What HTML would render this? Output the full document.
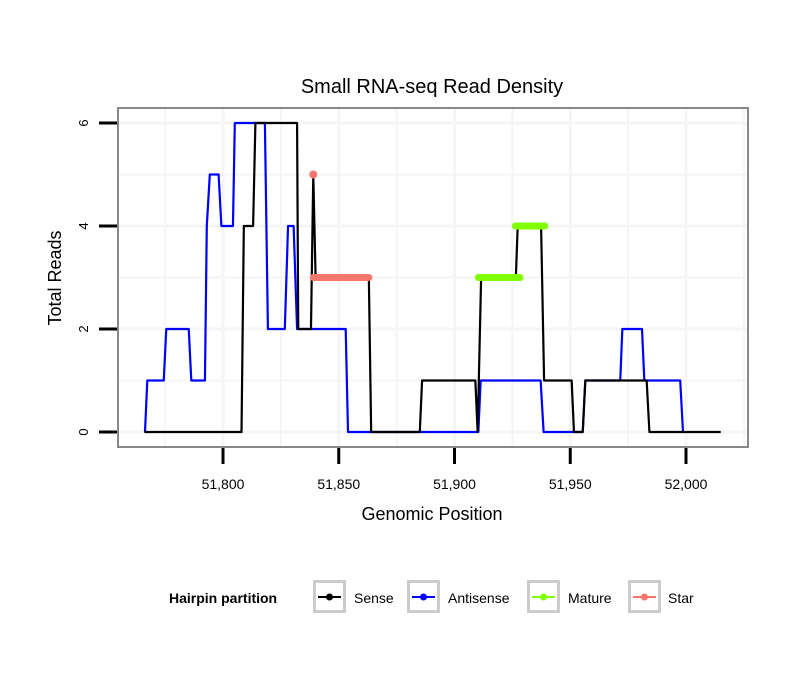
<!DOCTYPE html>
<html><head><meta charset="utf-8"><style>
body{margin:0;background:#fff;}
svg{display:block;font-family:"Liberation Sans",Arial,sans-serif;}
</style></head><body>
<svg id="chart" width="810" height="690">
<rect width="810" height="690" fill="#fff"/>
<text x="432" y="93" text-anchor="middle" font-size="20">Small RNA-seq Read Density</text>
<g id="grid"></g>
<g id="series"></g>
<rect x="118" y="108" width="630" height="339" fill="none" stroke="#888" stroke-width="2"/>
<g id="axes"></g>
<text x="432" y="520" text-anchor="middle" font-size="18">Genomic Position</text>
<text transform="translate(61,278) rotate(-90)" text-anchor="middle" font-size="18">Total Reads</text>
<g>
<text x="169" y="603" font-size="14" font-weight="bold">Hairpin partition</text>
<g id="legend-items"></g>
</g>
</svg>
<script>
const xTicks=[51800,51850,51900,51950,52000];
const xTickLabels=["51,800","51,850","51,900","51,950","52,000"];
const yTicks=[0,2,4,6];
const senseX=[51766,51808,51809,51813,51814,51832,51832.5,51838,51839,51840,51863,51864,51885,51886,51909,51910,51911.5,51926.5,51927.3,51937.4,51938.7,51950.6,51951.6,51955.4,51956.5,51983,51984.2,52015];
const senseY=[0,0,4,4,6,6,2,2,5,3,3,0,0,1,1,0,3,3,4,4,1,1,0,0,1,1,0,0];
const antiX=[51766.3,51767.3,51774.4,51775.5,51785.2,51786.3,51792.2,51793,51794.3,51798.1,51799.3,51804.3,51805.1,51818.1,51819.4,51826.7,51828.1,51830.5,51832,51853,51854,51910.3,51911.3,51937.2,51938.5,51950.6,51955.4,51956.5,51971.6,51972.5,51981,51982,51997.5,51998.7];
const antiY=[0,1,1,2,2,1,1,4,5,5,4,4,6,6,2,2,4,4,2,2,0,0,1,1,0,0,0,1,1,2,2,1,1,0];
const matureX=[[51910.3,51928.3],[51926.3,51939]];
const matureY=[3,4];
const starX=[51839,51863];
const starY=3;
const starPointX=51839, starPointY=5;
const categories=["Sense","Antisense","Mature","Star"];
const colors=["#000","#0000ff","#7fff00","#f8766d"];

const X=v=>223+(v-51800)*2.315;
const Y=v=>432-v*51.5;
const NS="http://www.w3.org/2000/svg";
function mk(t,a,p){const e=document.createElementNS(NS,t);for(const k in a)e.setAttribute(k,a[k]);p.appendChild(e);return e;}
const grid=document.getElementById('grid'),ser=document.getElementById('series'),ax=document.getElementById('axes');
for(let v=51775;v<=52025;v+=25){const px=X(v);if(px<118||px>748)continue;
 const l=mk('line',{x1:px,x2:px,y1:108,y2:447,stroke:'#f5f5f5','stroke-width':(v%50===0)?3:2},grid);
 
 }
for(let v=0;v<=6.5;v+=1){const py=Y(v);
 const l=mk('line',{x1:118,x2:748,y1:py,y2:py,stroke:'#f5f5f5','stroke-width':(v%2===0)?3:2},grid);
 
 }
function poly(xs,ys,col,w,name){const pts=xs.map((x,i)=>X(x)+','+Y(ys[i])).join(' ');
 const p=mk('polyline',{points:pts,fill:'none',stroke:col,'stroke-width':w,'stroke-linejoin':'round'},ser);
 
 }
poly(antiX,antiY,'#0000ff',2.2,'antisense-line');
poly(senseX,senseY,'#000',2.2,'sense-line');
matureX.forEach((r,i)=>{const l=mk('line',{x1:X(r[0]),x2:X(r[1]),y1:Y(matureY[i]),y2:Y(matureY[i]),stroke:'#7fff00','stroke-width':7,'stroke-linecap':'round'},ser);
 
 });
const sl=mk('line',{x1:X(starX[0]),x2:X(starX[1]),y1:Y(starY),y2:Y(starY),stroke:'#f8766d','stroke-width':7,'stroke-linecap':'round'},ser);


const sp=mk('circle',{cx:X(starPointX),cy:Y(starPointY),r:4,fill:'#f8766d'},ser);


xTicks.forEach((v,i)=>{const px=X(v);
 const t=mk('line',{x1:px,x2:px,y1:448,y2:464,stroke:'#000','stroke-width':3},ax);
 
 
 const tx=mk('text',{x:px,y:489,'text-anchor':'middle','font-size':14},ax);tx.textContent=xTickLabels[i];
 
 });
yTicks.forEach(v=>{const py=Y(v);
 const t=mk('line',{x1:99,x2:117,y1:py,y2:py,stroke:'#000','stroke-width':3},ax);
 
 
 const tx=mk('text',{transform:`translate(88,${py}) rotate(-90)`,'text-anchor':'middle','font-size':13},ax);tx.textContent=v;
 
 });
const leg=document.getElementById('legend-items');
const boxX=[313,407,527,628], txtX=[354,448,568,668];
categories.forEach((c,i)=>{
 const g=mk('g',{},leg);
 
 
 mk('rect',{x:boxX[i]+1.5,y:581.5,width:30,height:30,fill:'#fff',stroke:'#ccc','stroke-width':3},g);
 mk('line',{x1:boxX[i]+5,x2:boxX[i]+28,y1:597,y2:597,stroke:colors[i],'stroke-width':2},g);
 mk('circle',{cx:boxX[i]+16.5,cy:597,r:3.5,fill:colors[i]},g);
 const t=mk('text',{x:txtX[i],y:603,'font-size':14},g);t.textContent=c;});
</script>
</body></html>
